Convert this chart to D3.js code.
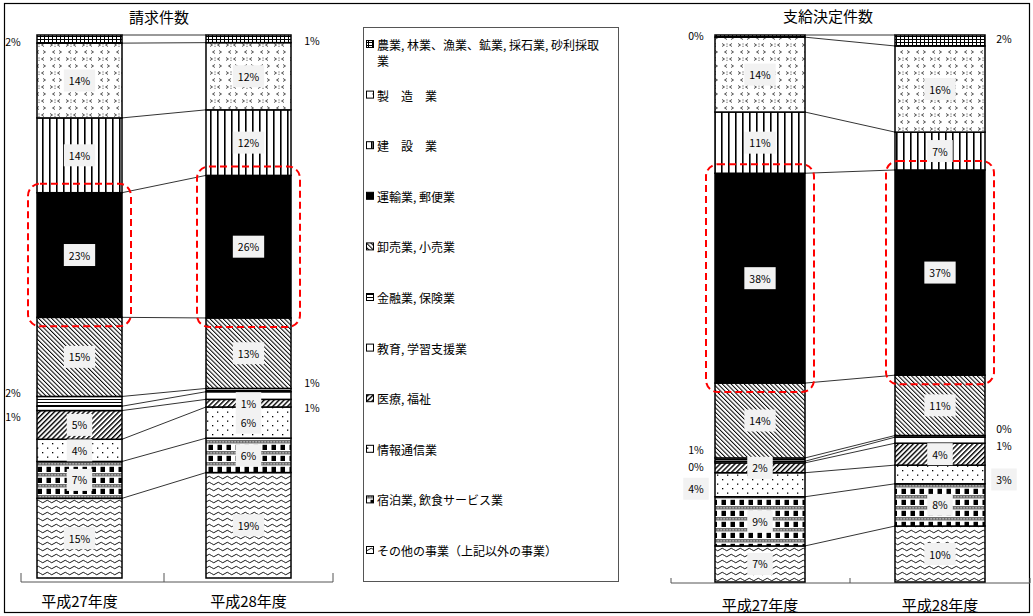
<!DOCTYPE html>
<html>
<head>
<meta charset="utf-8">
<script src="https://cdnjs.cloudflare.com/ajax/libs/d3/7.8.5/d3.min.js"></script>
<style>
  body { margin: 0; background: #fff; }
  svg { font-family: 'Noto Sans CJK JP', 'Noto Sans', sans-serif; }
</style>
</head>
<body>
<div id="root"></div>
<script>
// Data
const categories = [
    '農業, 林業、漁業、鉱業, 採石業, 砂利採取業',
    '製　造　業',
    '建　設　業',
    '運輸業, 郵便業',
    '卸売業, 小売業',
    '金融業, 保険業',
    '教育, 学習支援業',
    '医療, 福祉',
    '情報通信業',
    '宿泊業, 飲食サービス業',
    'その他の事業（上記以外の事業）'
];
const years = ['平成27年度', '平成28年度'];

// 請求件数 (%)
const claimH27 = [1.5, 13.8, 13.8, 23.0, 14.6, 1.8, 0.8, 5.3, 4.1, 6.8, 14.7];
const claimH28 = [1.4, 12.3, 12.0, 26.1, 12.9, 0.6, 1.4, 1.4, 5.7, 6.3, 19.3];
// 支給決定件数 (%)
const payH27 = [0.4, 13.7, 11.2, 38.4, 13.7, 0.6, 0.3, 1.8, 4.4, 9.0, 6.6];
const payH28 = [2.0, 15.7, 6.9, 37.4, 11.0, 0.3, 1.1, 4.0, 3.4, 7.7, 10.2];

const highlight = 3; // 運輸業, 郵便業

const root = document.getElementById('root');
const width = 1033;
const height = 616;

const svg = d3.select(root)
    .append('svg')
    .attr('width', width)
    .attr('height', height);

// Patterns
const defs = svg.append('defs');
const pat = (id, w, h, transform) => {
    const p = defs.append('pattern')
        .attr('id', id)
        .attr('patternUnits', 'userSpaceOnUse')
        .attr('width', w)
        .attr('height', h);
    if (transform) p.attr('patternTransform', transform);
    p.append('rect').attr('width', w).attr('height', h).attr('fill', '#fff');
    return p;
};

pat('p0', 4, 3).append('path')
    .attr('d', 'M0.5,0V3M0,0.5H4')
    .attr('stroke', '#000').attr('stroke-width', 1);

const p1 = pat('p1', 16, 14);
p1.append('path')
    .attr('d', 'M2,1.5L4.5,3L2,4.5M12,1.5L9.5,3L12,4.5M7,8.5L4.5,10L7,11.5M11,8.5L13.5,10L11,11.5')
    .attr('fill', 'none').attr('stroke', '#444').attr('stroke-width', 0.9);
p1.append('rect').attr('x', 6.5).attr('y', 1.5).attr('width', 1).attr('height', 1).attr('fill', '#444');
p1.append('rect').attr('x', 6.5).attr('y', 3.8).attr('width', 1).attr('height', 1).attr('fill', '#444');

pat('p2', 7, 10).append('rect')
    .attr('width', 1.6).attr('height', 10).attr('fill', '#000');

pat('p4', 3.1, 4, 'rotate(-45)').append('rect')
    .attr('width', 1).attr('height', 4).attr('fill', '#000');

pat('p5', 4, 3).append('rect')
    .attr('width', 4).attr('height', 1).attr('fill', '#000');

pat('p7', 3.5, 4, 'rotate(45)').append('rect')
    .attr('width', 1.4).attr('height', 4).attr('fill', '#000');

const p8 = pat('p8', 10, 9);
p8.append('rect').attr('x', 2).attr('y', 2).attr('width', 1.3).attr('height', 1.3).attr('fill', '#000');
p8.append('rect').attr('x', 7).attr('y', 6.5).attr('width', 1.3).attr('height', 1.3).attr('fill', '#000');

const p9 = pat('p9', 9, 11);
p9.append('rect').attr('width', 9).attr('height', 3.5).attr('fill', '#6e6e6e');
[0.5, 3.5, 6.5].forEach(cx => p9.append('rect')
    .attr('x', cx).attr('y', 1.2).attr('width', 1.2).attr('height', 1.2).attr('fill', '#ddd'));
p9.append('rect').attr('x', 1.5).attr('y', 4.8).attr('width', 4.5).attr('height', 5.2).attr('fill', '#000');

pat('p10', 9, 6).append('path')
    .attr('d', 'M0,3.5Q2.25,1 4.5,3.5T9,3.5')
    .attr('fill', 'none').attr('stroke', '#000').attr('stroke-width', 0.9);

const fillOf = i => i === 3 ? '#000' : i === 6 ? '#fff' : `url(#p${i})`;

// Outer frame
svg.append('rect')
    .attr('x', 4.5).attr('y', 3.5)
    .attr('width', 1025).attr('height', 609)
    .attr('fill', 'none').attr('stroke', '#000').attr('stroke-width', 1.2);

// Chart layouts
const charts = [
    {
        title: '請求件数', titleX: 159, titleY: 16,
        values: [claimH27, claimH28],
        xRange: [-5, 333], axisStart: 21, barRatio: 0.503,
        top: 35, bottom: 578, axisY: 582, tickLen: 9, labelY: 600,
        sideDx: {left: -24, right: 21},
        outside: [
            [{i: 0, side: 'left', dy: 2}, {i: 5, side: 'left', dy: -9}, {i: 6, side: 'left', dy: 8}],
            [{i: 0, side: 'right', dy: 1.5}, {i: 5, side: 'right', dy: -8}, {i: 6, side: 'right', dy: 12}]
        ]
    },
    {
        title: '支給決定件数', titleX: 828, titleY: 15,
        values: [payH27, payH28],
        xRange: [670, 1030], axisStart: 671, barRatio: 0.5,
        top: 35, bottom: 582, axisY: 583, tickLen: 5, labelY: 604,
        sideDx: {left: -19, right: 19},
        outside: [
            [{i: 0, side: 'left', dy: -1}, {i: 5, side: 'left', dy: -10}, {i: 6, side: 'left', dy: 4}, {i: 8, side: 'left', dy: 4, box: true}],
            [{i: 0, side: 'right', dy: -1.5}, {i: 5, side: 'right', dy: -8}, {i: 6, side: 'right', dy: 5}, {i: 8, side: 'right', dy: 5, box: true}]
        ]
    }
];

const addLabel = (g, cx, cy, txt, boxed) => {
    const lg = g.append('g');
    const rect = lg.append('rect').attr('fill', boxed ? '#f2f2f2' : 'none');
    const t = lg.append('text')
        .attr('x', cx).attr('y', cy)
        .attr('text-anchor', 'middle')
        .attr('dominant-baseline', 'central')
        .attr('font-size', '10.5px')
        .attr('fill', '#000')
        .text(txt);
    if (boxed) {
        const w = t.node().getComputedTextLength() + 10;
        rect.attr('x', cx - w / 2).attr('y', cy - 11)
            .attr('width', w).attr('height', 22);
    }
};

const drawChart = (cfg) => {
    const g = svg.append('g');
    const x = d3.scaleBand().domain(years).range(cfg.xRange);
    const y = d3.scaleLinear().domain([0, 1]).range([cfg.bottom, cfg.top]);
    const barW = x.bandwidth() * cfg.barRatio;
    const barX = yr => x(yr) + (x.bandwidth() - barW) / 2;

    // Stack: first category on top
    const keys = d3.range(categories.length);
    const rows = years.map((yr, j) => {
        const r = {year: yr};
        keys.forEach(i => r[i] = cfg.values[j][i]);
        return r;
    });
    const layers = d3.stack()
        .keys(keys.slice().reverse())
        .offset(d3.stackOffsetExpand)(rows);

    const segs = [];
    layers.forEach(layer => layer.forEach((s, j) => segs.push({
        i: +layer.key, j, year: years[j], y0: s[0], y1: s[1], v: cfg.values[j][+layer.key]
    })));

    // Axis
    const r1 = x.range()[1];
    const tickTop = cfg.axisY - cfg.tickLen;
    g.append('path')
        .attr('d', `M${cfg.axisStart},${tickTop}V${cfg.axisY}H${r1}V${tickTop}M${x(years[1])},${tickTop}V${cfg.axisY}`)
        .attr('fill', 'none')
        .attr('stroke', '#555')
        .attr('stroke-width', 1);

    // Segments
    g.selectAll('rect.seg')
        .data(segs)
        .enter()
        .append('rect')
        .attr('class', 'seg')
        .attr('x', d => barX(d.year))
        .attr('y', d => y(d.y1))
        .attr('width', barW)
        .attr('height', d => y(d.y0) - y(d.y1))
        .attr('fill', d => fillOf(d.i))
        .attr('stroke', '#000')
        .attr('stroke-width', 1.5);

    // Series lines
    keys.forEach(i => {
        const a = segs.find(s => s.i === i && s.j === 0);
        const b = segs.find(s => s.i === i && s.j === 1);
        g.append('line')
            .attr('x1', barX(years[0]) + barW).attr('y1', y(a.y1))
            .attr('x2', barX(years[1])).attr('y2', y(b.y1))
            .attr('stroke', '#000').attr('stroke-width', 0.8);
    });

    // Highlight boxes
    segs.filter(s => s.i === highlight).forEach(s => {
        g.append('rect')
            .attr('x', barX(s.year) - 9)
            .attr('y', y(s.y1) - 9)
            .attr('width', barW + 18)
            .attr('height', y(s.y0) - y(s.y1) + 18)
            .attr('rx', 12)
            .attr('fill', 'none')
            .attr('stroke', '#ff0000')
            .attr('stroke-width', 2)
            .attr('stroke-dasharray', '7,4');
    });

    // Value labels
    segs.forEach(s => {
        const txt = Math.round(s.v) + '%';
        const cy = (y(s.y0) + y(s.y1)) / 2;
        const o = cfg.outside[s.j].find(d => d.i === s.i);
        if (o) {
            const cx = o.side === 'left' ? barX(s.year) + cfg.sideDx.left : barX(s.year) + barW + cfg.sideDx.right;
            addLabel(g, cx, cy + o.dy, txt, !!o.box);
        } else {
            addLabel(g, barX(s.year) + barW / 2, cy, txt, true);
        }
    });

    g.selectAll('text.cat')
        .data(years)
        .enter()
        .append('text')
        .attr('class', 'cat')
        .attr('x', d => barX(d) + barW / 2)
        .attr('y', cfg.labelY)
        .attr('text-anchor', 'middle')
        .attr('dominant-baseline', 'central')
        .attr('font-size', '15px')
        .text(d => d);

    // Title
    g.append('text')
        .attr('x', cfg.titleX)
        .attr('y', cfg.titleY)
        .attr('text-anchor', 'middle')
        .attr('dominant-baseline', 'central')
        .attr('font-size', '15px')
        .text(cfg.title);
};

charts.forEach(drawChart);

// Legend
const legend = svg.append('g');
legend.append('rect')
    .attr('x', 363.5).attr('y', 27.5)
    .attr('width', 255).attr('height', 554)
    .attr('fill', '#fff')
    .attr('stroke', '#555')
    .attr('stroke-width', 1);

const wrapWidth = 226;
categories.forEach((name, i) => {
    const cy = 44 + i * 50.6;
    legend.append('rect')
        .attr('x', 366.5).attr('y', cy - 3.5)
        .attr('width', 7).attr('height', 7)
        .attr('fill', fillOf(i))
        .attr('stroke', '#000')
        .attr('stroke-width', 1);
    const t = legend.append('text')
        .attr('x', 377).attr('y', cy)
        .attr('dominant-baseline', 'central')
        .attr('font-size', '12px');
    // simple char wrap
    let line = '';
    let lineNo = 0;
    let ts = t.append('tspan').attr('x', 377).attr('y', cy);
    [...name].forEach(ch => {
        ts.text(line + ch);
        if (ts.node().getComputedTextLength() > wrapWidth) {
            ts.text(line);
            line = ch;
            lineNo++;
            ts = t.append('tspan').attr('x', 377).attr('y', cy + lineNo * 16).text(ch);
        } else {
            line += ch;
        }
    });
});
</script>
</body>
</html>
